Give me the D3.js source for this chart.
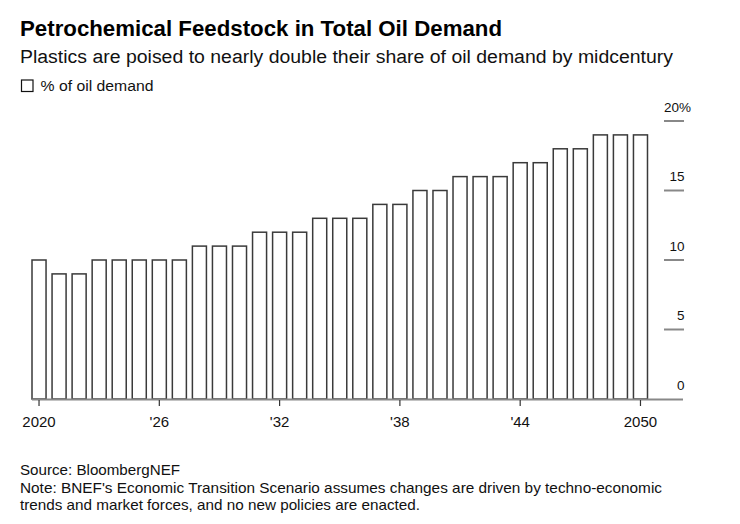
<!DOCTYPE html>
<html><head><meta charset="utf-8">
<script src="https://cdn.jsdelivr.net/npm/d3@7"></script>
<style>body{margin:0;background:#fff}svg{display:block;font-family:"Liberation Sans",Arial,Helvetica,sans-serif}</style>
</head><body><svg id="c" width="740" height="524"></svg>
<script>
const years = d3.range(2020, 2051);
const values = [10,9,9,10,10,10,10,10,11,11,11,12,12,12,13,13,13,14,14,15,15,16,16,16,17,17,18,18,19,19,19];
const yTicks = [0,5,10,15,20];
const xTickYears = [2020,2026,2032,2038,2044,2050];
const xTickLabels = ["2020","'26","'32","'38","'44","2050"];

const svg = d3.select("#c");
const x = d3.scaleBand().domain(years).range([29, 650.5]).paddingInner(0.3).paddingOuter(0.15);
const y = d3.scaleLinear().domain([0,20]).range([399,121]);

function fitText(sel, w){ const n=sel.node(); const l=n.getComputedTextLength(); if(Math.abs(l-w)>2){ sel.attr("textLength",w).attr("lengthAdjust","spacingAndGlyphs"); } }

fitText(svg.append("text").attr("x",20).attr("y",35.5).attr("font-size",22).attr("font-weight","bold").attr("fill","#000").text("Petrochemical Feedstock in Total Oil Demand"), 482);
fitText(svg.append("text").attr("x",20).attr("y",62.5).attr("font-size",18).attr("fill","#111").text("Plastics are poised to nearly double their share of oil demand by midcentury"), 653);
svg.append("rect").attr("x",21.5).attr("y",80).attr("width",11.5).attr("height",11.5).attr("fill","#fff").attr("stroke","#111").attr("stroke-width",1.2);
fitText(svg.append("text").attr("x",40.5).attr("y",91).attr("font-size",14).attr("fill","#111").text("% of oil demand"), 113);

// y ticks
const yg = svg.append("g");
yg.selectAll("line").data(yTicks.filter(d=>d>0)).join("line")
  .attr("x1",664).attr("x2",684).attr("y1",d=>y(d)).attr("y2",d=>y(d))
  .attr("stroke","#888").attr("stroke-width",2);
yg.selectAll("text").data(yTicks).join("text")
  .attr("x",d=>d===20?664:684.5).attr("y",d=>y(d)-9.5)
  .attr("text-anchor",d=>d===20?"start":"end")
  .attr("font-size",13.5).attr("fill","#111")
  .text(d=>d===20?"20%":d);

// bars
svg.append("g").selectAll("rect").data(years).join("rect")
  .attr("x",d=>x(d)).attr("width",x.bandwidth())
  .attr("y",(d,i)=>y(values[i])).attr("height",(d,i)=>y(0)-y(values[i]))
  .attr("fill","#fff").attr("stroke","#3a3a3a").attr("stroke-width",1.5);

// baseline
svg.append("line").attr("x1",32).attr("x2",683).attr("y1",399.5).attr("y2",399.5).attr("stroke","#888").attr("stroke-width",2);

// x axis ticks
const xg = svg.append("g");
xg.selectAll("line").data(xTickYears).join("line")
  .attr("x1",d=>x(d)+x.bandwidth()/2).attr("x2",d=>x(d)+x.bandwidth()/2)
  .attr("y1",400).attr("y2",406).attr("stroke","#333").attr("stroke-width",1.2);
xg.selectAll("text").data(xTickYears).join("text")
  .attr("x",d=>x(d)+x.bandwidth()/2).attr("y",426.5).attr("text-anchor","middle")
  .attr("font-size",15).attr("fill","#111")
  .text((d,i)=>xTickLabels[i]);

// footer
const foot = [["Source: BloombergNEF",475,160],["Note: BNEF's Economic Transition Scenario assumes changes are driven by techno-economic",492.5,642],["trends and market forces, and no new policies are enacted.",510,400]];
foot.forEach(f=>fitText(svg.append("text").attr("x",20).attr("y",f[1]).attr("font-size",14.5).attr("fill","#111").text(f[0]), f[2]));
</script></body></html>
